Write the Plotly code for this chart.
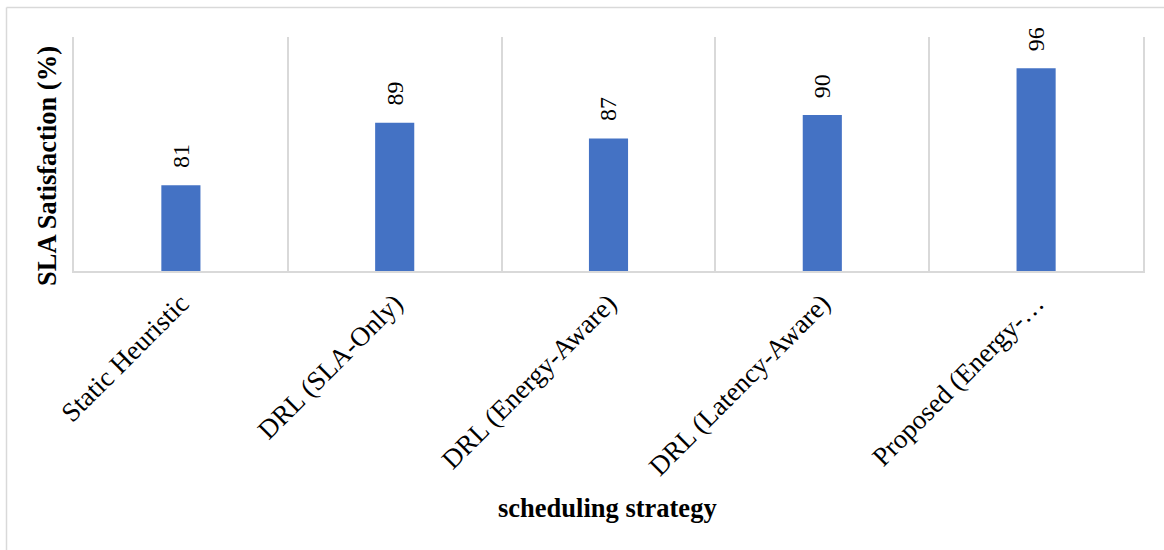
import plotly.graph_objects as go

categories = ["Static Heuristic", "DRL (SLA-Only)", "DRL (Energy-Aware)",
              "DRL (Latency-Aware)", "Proposed (Energy-…"]
values = [81, 89, 87, 90, 96]

W, H = 1164, 550
L, R, T, B = 74, 21, 37, 279
pw, ph = W - L - R, H - T - B

def px(x):
    return (x - L) / pw

def py(y):
    return (H - B - y) / ph

FONT = "Liberation Serif, Times New Roman, serif"

fig = go.Figure(go.Bar(
    x=categories, y=values,
    marker=dict(color="#4472C4", line=dict(width=0)),
    hoverinfo="x+y",
))

for c, v in zip(categories, values):
    fig.add_annotation(x=c, y=v, text=str(v), textangle=-90, showarrow=False,
                       xanchor="center", yanchor="bottom", yshift=15,
                       font=dict(family=FONT, size=24, color="#000"))

fig.add_annotation(xref="paper", yref="paper", x=px(47), y=py(166),
                   text="<b>SLA Satisfaction (%)</b>", textangle=-90, showarrow=False,
                   xanchor="center", yanchor="middle",
                   font=dict(family=FONT, size=26.5, color="#000"))
fig.add_annotation(xref="paper", yref="paper", x=px(607.5), y=py(508),
                   text="<b>scheduling strategy</b>", showarrow=False,
                   xanchor="center", yanchor="middle",
                   font=dict(family=FONT, size=26.5, color="#000"))

# outer chart border (left and top visible)
fig.add_shape(type="line", xref="paper", yref="paper", x0=px(6.5), x1=px(6.5),
              y0=py(7.5), y1=py(560), line=dict(color="#d9d9d9", width=1.5))
fig.add_shape(type="line", xref="paper", yref="paper", x0=px(6.5), x1=px(1180),
              y0=py(7.5), y1=py(7.5), line=dict(color="#d9d9d9", width=1.5))

fig.update_layout(
    width=W, height=H,
    margin=dict(l=L, r=R, t=T, b=B, autoexpand=False),
    paper_bgcolor="white", plot_bgcolor="white",
    bargap=0.817,
    showlegend=False,
    font=dict(family=FONT, color="#000"),
    xaxis=dict(
        type="category", tickson="boundaries", showgrid=True,
        gridcolor="#d9d9d9", gridwidth=1.5,
        showline=True, linecolor="#d9d9d9", linewidth=1.5,
        ticks="", tickangle=-45, ticklabelstandoff=4,
        tickfont=dict(family=FONT, size=27, color="#000"),
        automargin=False,
    ),
    yaxis=dict(
        range=[70, 100], showgrid=False, zeroline=False,
        showticklabels=False, ticks="",
        showline=True, mirror=True, linecolor="#d9d9d9", linewidth=1.5,
        automargin=False,
    ),
)

fig.write_html("out.html")
